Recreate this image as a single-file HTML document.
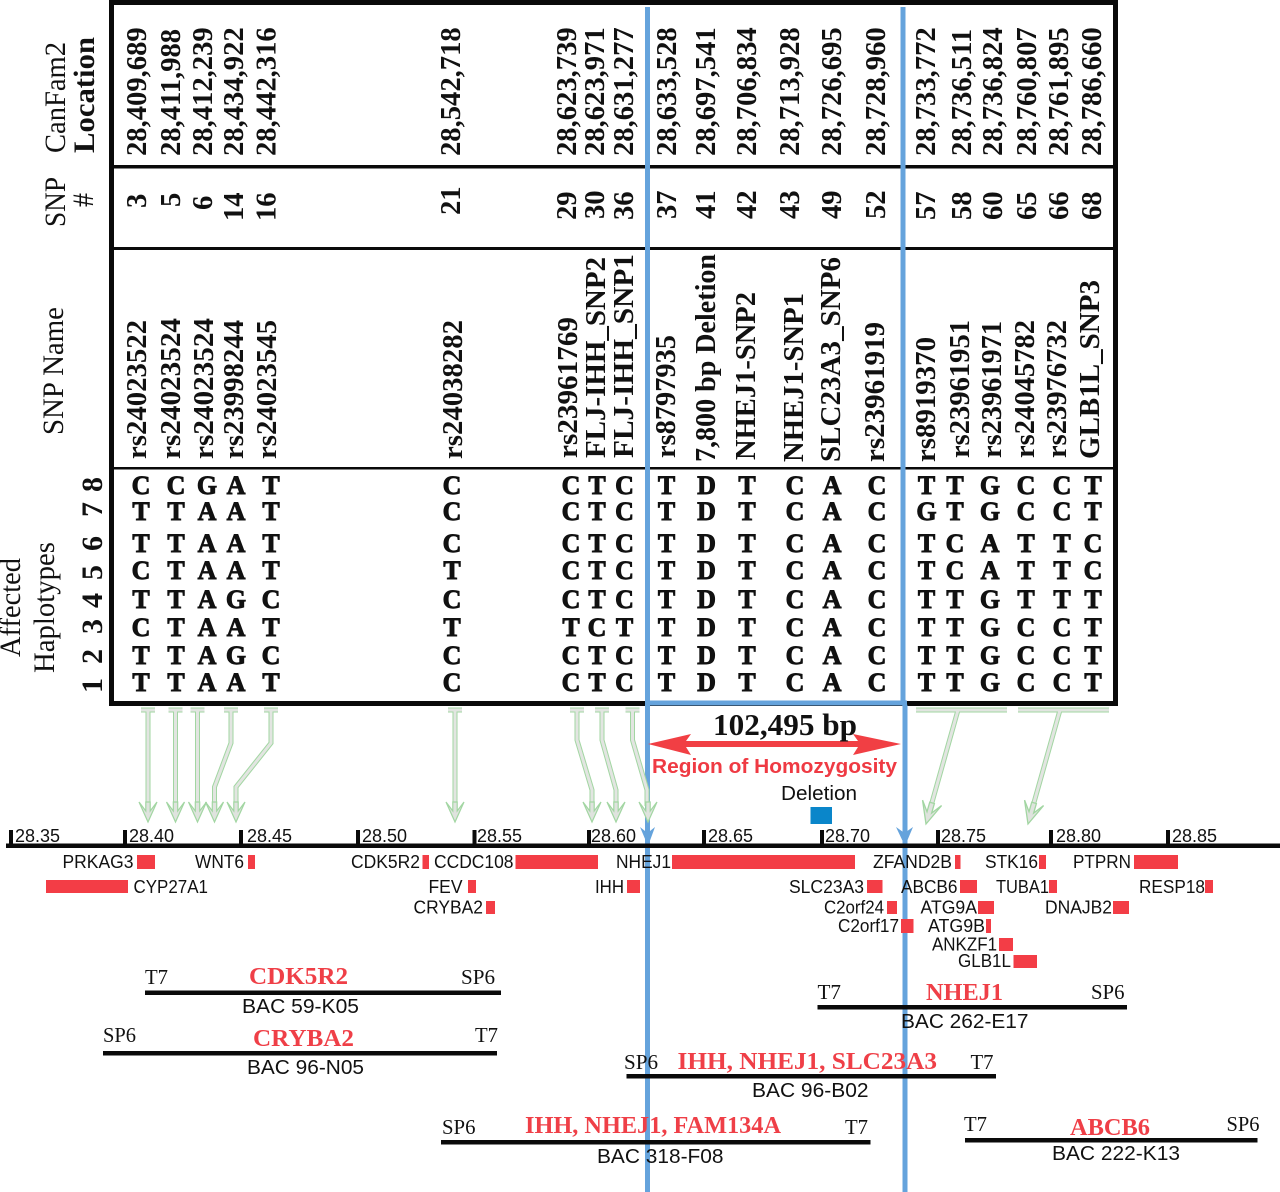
<!DOCTYPE html>
<html><head><meta charset="utf-8"><title>Haplotype map</title>
<style>
html,body{margin:0;padding:0;background:#fff}
svg{display:block}
text{fill:#111}
.s{font-family:"Liberation Serif",serif}
.a{font-family:"Liberation Sans",sans-serif}
.n{font:bold 28.6px "Liberation Serif",serif}
.h{font:30px "Liberation Serif",serif}
.hb{font:bold 30px "Liberation Serif",serif}
.d{font:bold 30px "Liberation Serif",serif}
.l{font:bold 26px "Liberation Serif",serif;text-anchor:middle;stroke:#111;stroke-width:.9px}
.t{font:18px "Liberation Sans",sans-serif}
.g{font:18px "Liberation Sans",sans-serif}
.b{font:20px "Liberation Sans",sans-serif}
.p{font:21px "Liberation Serif",serif}
text.r{font:bold 24px "Liberation Serif",serif;fill:#ef3f47}
</style></head><body>
<svg width="1280" height="1192" viewBox="0 0 1280 1192" xmlns="http://www.w3.org/2000/svg">
<rect width="1280" height="1192" fill="#fff"/>
<!-- table -->
<g fill="#0a0a0a">
<rect x="109" y="0" width="1008" height="5"/>
<rect x="109" y="0" width="5" height="706"/>
<rect x="1113" y="0" width="5" height="706"/>
<rect x="109" y="701" width="1009" height="5"/>
<rect x="112" y="165" width="1003" height="3.5"/>
<rect x="112" y="247" width="1003" height="3"/>
<rect x="112" y="467" width="1003" height="2.5"/>
</g>
<!-- headers -->
<text class="h" transform="translate(65 153) rotate(-90)" textLength="111" lengthAdjust="spacingAndGlyphs">CanFam2</text>
<text class="hb" transform="translate(94 153) rotate(-90)" textLength="116" lengthAdjust="spacingAndGlyphs">Location</text>
<text class="h" transform="translate(65 227) rotate(-90)" textLength="50" lengthAdjust="spacingAndGlyphs">SNP</text>
<text class="h" transform="translate(93 207) rotate(-90)" textLength="14" lengthAdjust="spacingAndGlyphs">#</text>
<text class="h" transform="translate(63 435) rotate(-90)" textLength="128" lengthAdjust="spacingAndGlyphs">SNP Name</text>
<text class="h" transform="translate(20 657) rotate(-90)" textLength="99" lengthAdjust="spacingAndGlyphs">Affected</text>
<text class="h" transform="translate(54 673) rotate(-90)" textLength="131" lengthAdjust="spacingAndGlyphs">Haplotypes</text>
<!-- locations -->
<g class="n">
<text class="n" transform="translate(146 156) rotate(-90)">28,409,689</text>
<text class="n" transform="translate(180 156) rotate(-90)">28,411,988</text>
<text class="n" transform="translate(212 156) rotate(-90)">28,412,239</text>
<text class="n" transform="translate(243 156) rotate(-90)">28,434,922</text>
<text class="n" transform="translate(275.5 156) rotate(-90)">28,442,316</text>
<text class="n" transform="translate(460 156) rotate(-90)">28,542,718</text>
<text class="n" transform="translate(576 156) rotate(-90)">28,623,739</text>
<text class="n" transform="translate(604 156) rotate(-90)">28,623,971</text>
<text class="n" transform="translate(633 156) rotate(-90)">28,631,277</text>
<text class="n" transform="translate(676 156) rotate(-90)">28,633,528</text>
<text class="n" transform="translate(715 156) rotate(-90)">28,697,541</text>
<text class="n" transform="translate(756 156) rotate(-90)">28,706,834</text>
<text class="n" transform="translate(799 156) rotate(-90)">28,713,928</text>
<text class="n" transform="translate(841 156) rotate(-90)">28,726,695</text>
<text class="n" transform="translate(885 156) rotate(-90)">28,728,960</text>
<text class="n" transform="translate(935 156) rotate(-90)">28,733,772</text>
<text class="n" transform="translate(971 156) rotate(-90)">28,736,511</text>
<text class="n" transform="translate(1002 156) rotate(-90)">28,736,824</text>
<text class="n" transform="translate(1036 156) rotate(-90)">28,760,807</text>
<text class="n" transform="translate(1068 156) rotate(-90)">28,761,895</text>
<text class="n" transform="translate(1101 156) rotate(-90)">28,786,660</text>
<!-- SNP numbers -->
<text class="n" transform="translate(146 208) rotate(-90)">3</text>
<text class="n" transform="translate(180 207) rotate(-90)">5</text>
<text class="n" transform="translate(212 210) rotate(-90)">6</text>
<text class="n" transform="translate(243 221) rotate(-90)">14</text>
<text class="n" transform="translate(275.5 221) rotate(-90)">16</text>
<text class="n" transform="translate(460 215) rotate(-90)">21</text>
<text class="n" transform="translate(576 220) rotate(-90)">29</text>
<text class="n" transform="translate(604 219) rotate(-90)">30</text>
<text class="n" transform="translate(633 220) rotate(-90)">36</text>
<text class="n" transform="translate(676 219) rotate(-90)">37</text>
<text class="n" transform="translate(715 219) rotate(-90)">41</text>
<text class="n" transform="translate(756 219) rotate(-90)">42</text>
<text class="n" transform="translate(799 219) rotate(-90)">43</text>
<text class="n" transform="translate(841 219) rotate(-90)">49</text>
<text class="n" transform="translate(885 219) rotate(-90)">52</text>
<text class="n" transform="translate(935 220) rotate(-90)">57</text>
<text class="n" transform="translate(971 220) rotate(-90)">58</text>
<text class="n" transform="translate(1002 220) rotate(-90)">60</text>
<text class="n" transform="translate(1036 220) rotate(-90)">65</text>
<text class="n" transform="translate(1068 220) rotate(-90)">66</text>
<text class="n" transform="translate(1101 220) rotate(-90)">68</text>
<!-- SNP names -->
<text class="n" transform="translate(146 459) rotate(-90)" textLength="139" lengthAdjust="spacingAndGlyphs">rs24023522</text>
<text class="n" transform="translate(180 459) rotate(-90)" textLength="141" lengthAdjust="spacingAndGlyphs">rs24023524</text>
<text class="n" transform="translate(213 459) rotate(-90)" textLength="141" lengthAdjust="spacingAndGlyphs">rs24023524</text>
<text class="n" transform="translate(243 459) rotate(-90)" textLength="139" lengthAdjust="spacingAndGlyphs">rs23998244</text>
<text class="n" transform="translate(276 459) rotate(-90)" textLength="139" lengthAdjust="spacingAndGlyphs">rs24023545</text>
<text class="n" transform="translate(462 459) rotate(-90)" textLength="139" lengthAdjust="spacingAndGlyphs">rs24038282</text>
<text class="n" transform="translate(577 458) rotate(-90)" textLength="141" lengthAdjust="spacingAndGlyphs">rs23961769</text>
<text class="n" transform="translate(605 458) rotate(-90)" textLength="201" lengthAdjust="spacingAndGlyphs">FLJ-IHH_SNP2</text>
<text class="n" transform="translate(633 458) rotate(-90)" textLength="204" lengthAdjust="spacingAndGlyphs">FLJ-IHH_SNP1</text>
<text class="n" transform="translate(675 458) rotate(-90)" textLength="123" lengthAdjust="spacingAndGlyphs">rs8797935</text>
<text class="n" transform="translate(715 462) rotate(-90)" textLength="208" lengthAdjust="spacingAndGlyphs">7,800 bp Deletion</text>
<text class="n" transform="translate(755 460) rotate(-90)" textLength="168" lengthAdjust="spacingAndGlyphs">NHEJ1-SNP2</text>
<text class="n" transform="translate(803 462) rotate(-90)" textLength="169" lengthAdjust="spacingAndGlyphs">NHEJ1-SNP1</text>
<text class="n" transform="translate(840 462) rotate(-90)" textLength="205" lengthAdjust="spacingAndGlyphs">SLC23A3_SNP6</text>
<text class="n" transform="translate(884 462) rotate(-90)" textLength="140" lengthAdjust="spacingAndGlyphs">rs23961919</text>
<text class="n" transform="translate(935 462) rotate(-90)" textLength="125" lengthAdjust="spacingAndGlyphs">rs8919370</text>
<text class="n" transform="translate(969 458) rotate(-90)" textLength="138" lengthAdjust="spacingAndGlyphs">rs23961951</text>
<text class="n" transform="translate(1001 458) rotate(-90)" textLength="137" lengthAdjust="spacingAndGlyphs">rs23961971</text>
<text class="n" transform="translate(1034 458) rotate(-90)" textLength="138" lengthAdjust="spacingAndGlyphs">rs24045782</text>
<text class="n" transform="translate(1066 458) rotate(-90)" textLength="138" lengthAdjust="spacingAndGlyphs">rs23976732</text>
<text class="n" transform="translate(1099 459) rotate(-90)" textLength="179" lengthAdjust="spacingAndGlyphs">GLB1L_SNP3</text>
</g>
<!-- row numbers -->
<text class="d" transform="translate(102 492) rotate(-90)">8</text>
<text class="d" transform="translate(102 517) rotate(-90)">7</text>
<text class="d" transform="translate(102 551) rotate(-90)">6</text>
<text class="d" transform="translate(102 580) rotate(-90)">5</text>
<text class="d" transform="translate(102 608) rotate(-90)">4</text>
<text class="d" transform="translate(102 634) rotate(-90)">3</text>
<text class="d" transform="translate(102 664) rotate(-90)">2</text>
<text class="d" transform="translate(102 693) rotate(-90)">1</text>
<!-- haplotypes -->
<g>
<text class="l" y="494" x="141 176 207 236 271 452 571 597 624.5 666.5 706.5 747 795 832 877 926.5 955 990 1026 1062 1093">CCGATCCTCTDTCACTTGCCT</text>
<text class="l" y="520" x="141 176 207 236 271 452 571 597 624.5 666.5 706.5 747 795 832 877 926.5 955 990 1026 1062 1093">TTAATCCTCTDTCACGTGCCT</text>
<text class="l" y="552" x="141 176 207 236 271 452 571 597 624.5 666.5 706.5 747 795 832 877 926.5 955 990 1026 1062 1093">TTAATCCTCTDTCACTCATTC</text>
<text class="l" y="579" x="141 176 207 236 271 452 571 597 624.5 666.5 706.5 747 795 832 877 926.5 955 990 1026 1062 1093">CTAATTCTCTDTCACTCATTC</text>
<text class="l" y="608" x="141 176 207 236 271 452 571 597 624.5 666.5 706.5 747 795 832 877 926.5 955 990 1026 1062 1093">TTAGCCCTCTDTCACTTGTTT</text>
<text class="l" y="636" x="141 176 207 236 271 452 571 597 624.5 666.5 706.5 747 795 832 877 926.5 955 990 1026 1062 1093">CTAATTTCTTDTCACTTGCCT</text>
<text class="l" y="664" x="141 176 207 236 271 452 571 597 624.5 666.5 706.5 747 795 832 877 926.5 955 990 1026 1062 1093">TTAGCCCTCTDTCACTTGCCT</text>
<text class="l" y="691" x="141 176 207 236 271 452 571 597 624.5 666.5 706.5 747 795 832 877 926.5 955 990 1026 1062 1093">TTAATCCTCTDTCACTTGCCT</text>
</g>
<!-- blue guides -->
<g fill="none" stroke="#65a3dc" stroke-width="5">
<path d="M647.5 7V1192"/>
<path d="M903 7V700L905 706V1192"/>
<path d="M646 703H907" stroke-width="5"/>
</g>
<g fill="#65a3dc">
<path d="M640 827L647.5 833L655 827L648 846Z"/>
<path d="M896 827L904.5 833L913 827L905 846Z"/>
</g>
<!-- green arrows -->
<defs>
<path id="head" d="M-9 -20L-2.200 -11L-2.200 -20L2.200 -20L2.200 -11L9 -20L0 0Z" fill="#dfe3de" stroke="#a2d6a2" stroke-width="1.200"/>
</defs>
<g fill="none" stroke-linejoin="miter">
<g stroke="#a2d6a2" stroke-width="5">
<path d="M141 710H155M148 710V806"/>
<path d="M168.5 710H182.5M175.5 710V806"/>
<path d="M190.500 710H204.500M197.500 710V806"/>
<path d="M224 710H238M231 710V743L214.500 787V806"/>
<path d="M264 710H278M271 710V743L236 787V806"/>
<path d="M448 710H462M455 710V806"/>
<path d="M570 710H584M577 710V740L592 790V806"/>
<path d="M595 710H609M602 710V740L616 790V806"/>
<path d="M625.500 710H639.500M632.500 710V740L647 790V806"/>
<path d="M916 710H1007M958 710L931 806"/>
<path d="M1018 710H1109M1060 710L1033 806"/>
</g>
<g stroke="#e2e5e1" stroke-width="3">
<path d="M141 710H155M148 710V806"/>
<path d="M168.5 710H182.5M175.5 710V806"/>
<path d="M190.500 710H204.500M197.500 710V806"/>
<path d="M224 710H238M231 710V743L214.500 787V806"/>
<path d="M264 710H278M271 710V743L236 787V806"/>
<path d="M448 710H462M455 710V806"/>
<path d="M570 710H584M577 710V740L592 790V806"/>
<path d="M595 710H609M602 710V740L616 790V806"/>
<path d="M625.500 710H639.500M632.500 710V740L647 790V806"/>
<path d="M916 710H1007M958 710L931 806"/>
<path d="M1018 710H1109M1060 710L1033 806"/>
</g>
</g>
<use href="#head" transform="translate(148 822)"/>
<use href="#head" transform="translate(175.500 822)"/>
<use href="#head" transform="translate(197.500 822)"/>
<use href="#head" transform="translate(214.500 822)"/>
<use href="#head" transform="translate(236 822)"/>
<use href="#head" transform="translate(455 822)"/>
<use href="#head" transform="translate(592 822)"/>
<use href="#head" transform="translate(616 822)"/>
<use href="#head" transform="translate(648 822)"/>
<use href="#head" transform="translate(926 824) rotate(16) scale(1.100)"/>
<use href="#head" transform="translate(1028 824) rotate(16) scale(1.100)"/>
<!-- red region -->
<path d="M648 744L691 734L686 741H858L853 734L901 744L853 755L858 747H686L691 755Z" fill="#f13f44"/>
<text class="s" x="713" y="735" style="font:bold 31px 'Liberation Serif',serif" textLength="144" lengthAdjust="spacingAndGlyphs">102,495 bp</text>
<text class="a" x="652" y="773" style="font:bold 20px 'Liberation Sans',sans-serif;fill:#ef3a43" textLength="245" lengthAdjust="spacingAndGlyphs">Region of Homozygosity</text>
<text class="b" x="781" y="800" textLength="76" lengthAdjust="spacingAndGlyphs">Deletion</text>
<rect x="810.500" y="807" width="21.500" height="17" fill="#0a86ca"/>
<!-- ruler -->
<rect x="6" y="843.500" width="1274" height="4.500" fill="#0a0a0a"/>
<g fill="#0a0a0a">
<rect x="9" y="830" width="4" height="16"/><rect x="123" y="830" width="4" height="16"/><rect x="239" y="830" width="4" height="16"/><rect x="356" y="830" width="4" height="16"/><rect x="472.500" y="830" width="4" height="16"/><rect x="587" y="830" width="4" height="16"/><rect x="702" y="830" width="4" height="16"/><rect x="820" y="830" width="4" height="16"/><rect x="936" y="830" width="4" height="16"/><rect x="1049" y="830" width="4" height="16"/><rect x="1166" y="830" width="4" height="16"/>
</g>
<g class="t">
<text class="t" x="15" y="842">28.35</text><text class="t" x="129" y="842">28.40</text><text class="t" x="247" y="842">28.45</text><text class="t" x="362" y="842">28.50</text><text class="t" x="477" y="842">28.55</text><text class="t" x="591" y="842">28.60</text><text class="t" x="708" y="842">28.65</text><text class="t" x="825" y="842">28.70</text><text class="t" x="941" y="842">28.75</text><text class="t" x="1056" y="842">28.80</text><text class="t" x="1172" y="842">28.85</text>
</g>
<!-- gene bars -->
<g fill="#f33d46">
<rect x="137" y="855" width="18" height="14"/><rect x="248" y="855" width="7" height="14"/><rect x="422.500" y="855" width="6.500" height="14"/><rect x="515.500" y="855" width="82.500" height="14"/><rect x="672" y="855" width="183" height="14"/><rect x="955" y="855" width="5.500" height="14"/><rect x="1039" y="855" width="7" height="14"/><rect x="1134" y="855" width="44" height="14"/>
<rect x="46" y="880" width="82" height="13"/><rect x="468" y="880" width="8" height="13"/><rect x="627" y="880" width="13" height="13"/><rect x="867" y="880" width="15.500" height="13"/><rect x="960" y="880" width="17" height="13"/><rect x="1049" y="880" width="8" height="13"/><rect x="1205" y="880" width="8" height="13"/>
<rect x="486" y="901" width="9" height="13"/><rect x="887" y="901" width="10" height="13"/><rect x="978" y="901" width="16" height="13"/><rect x="1113" y="901" width="16" height="13"/>
<rect x="901" y="919" width="12.500" height="14"/><rect x="986" y="919" width="5" height="14"/>
<rect x="999" y="938" width="14" height="13"/>
<rect x="1013.500" y="955" width="23.500" height="13"/>
</g>
<!-- gene labels -->
<g>
<text class="g" x="62.500" y="868" textLength="71" lengthAdjust="spacingAndGlyphs">PRKAG3</text>
<text class="g" x="195" y="868" textLength="49" lengthAdjust="spacingAndGlyphs">WNT6</text>
<text class="g" x="351" y="868" textLength="69" lengthAdjust="spacingAndGlyphs">CDK5R2</text>
<text class="g" x="434" y="868" textLength="79.500" lengthAdjust="spacingAndGlyphs">CCDC108</text>
<text class="g" x="616" y="868" textLength="55" lengthAdjust="spacingAndGlyphs">NHEJ1</text>
<text class="g" x="873" y="868" textLength="79" lengthAdjust="spacingAndGlyphs">ZFAND2B</text>
<text class="g" x="985" y="868" textLength="53" lengthAdjust="spacingAndGlyphs">STK16</text>
<text class="g" x="1073" y="868" textLength="58" lengthAdjust="spacingAndGlyphs">PTPRN</text>
<text class="g" x="133.500" y="893" textLength="74.500" lengthAdjust="spacingAndGlyphs">CYP27A1</text>
<text class="g" x="428.500" y="893" textLength="34" lengthAdjust="spacingAndGlyphs">FEV</text>
<text class="g" x="595" y="893" textLength="29" lengthAdjust="spacingAndGlyphs">IHH</text>
<text class="g" x="789" y="893" textLength="75" lengthAdjust="spacingAndGlyphs">SLC23A3</text>
<text class="g" x="901" y="893" textLength="56.500" lengthAdjust="spacingAndGlyphs">ABCB6</text>
<text class="g" x="996" y="893" textLength="53" lengthAdjust="spacingAndGlyphs">TUBA1</text>
<text class="g" x="1139" y="893" textLength="66" lengthAdjust="spacingAndGlyphs">RESP18</text>
<text class="g" x="413.500" y="913.500" textLength="69.500" lengthAdjust="spacingAndGlyphs">CRYBA2</text>
<text class="g" x="824" y="913.500" textLength="60" lengthAdjust="spacingAndGlyphs">C2orf24</text>
<text class="g" x="920.500" y="913.500" textLength="56.500" lengthAdjust="spacingAndGlyphs">ATG9A</text>
<text class="g" x="1045" y="913.500" textLength="67" lengthAdjust="spacingAndGlyphs">DNAJB2</text>
<text class="g" x="838" y="932" textLength="61" lengthAdjust="spacingAndGlyphs">C2orf17</text>
<text class="g" x="928" y="932" textLength="57" lengthAdjust="spacingAndGlyphs">ATG9B</text>
<text class="g" x="932" y="950.500" textLength="65" lengthAdjust="spacingAndGlyphs">ANKZF1</text>
<text class="g" x="958" y="967" textLength="53" lengthAdjust="spacingAndGlyphs">GLB1L</text>
</g>
<!-- BACs -->
<g fill="#0a0a0a">
<rect x="145" y="990.500" width="356" height="4.500"/>
<rect x="103" y="1051" width="394" height="4.500"/>
<rect x="441" y="1140" width="429.500" height="4.500"/>
<rect x="626.500" y="1074" width="369.500" height="4.500"/>
<rect x="817.500" y="1005" width="309.500" height="4.500"/>
<rect x="965" y="1138" width="292.500" height="4.500"/>
</g>
<text class="p" x="145" y="984" textLength="23" lengthAdjust="spacingAndGlyphs">T7</text>
<text class="p" x="461" y="984" textLength="34" lengthAdjust="spacingAndGlyphs">SP6</text>
<text class="r" x="249" y="984" textLength="99" lengthAdjust="spacingAndGlyphs">CDK5R2</text>
<text class="b" x="242" y="1013" textLength="117" lengthAdjust="spacingAndGlyphs">BAC 59-K05</text>
<text class="p" x="103" y="1042" textLength="33" lengthAdjust="spacingAndGlyphs">SP6</text>
<text class="p" x="475" y="1042" textLength="23" lengthAdjust="spacingAndGlyphs">T7</text>
<text class="r" x="253" y="1046" textLength="101" lengthAdjust="spacingAndGlyphs">CRYBA2</text>
<text class="b" x="247" y="1074" textLength="117" lengthAdjust="spacingAndGlyphs">BAC 96-N05</text>
<text class="p" x="442" y="1134" textLength="33.500" lengthAdjust="spacingAndGlyphs">SP6</text>
<text class="p" x="845" y="1134" textLength="23" lengthAdjust="spacingAndGlyphs">T7</text>
<text class="r" x="525" y="1133" textLength="256" lengthAdjust="spacingAndGlyphs">IHH, NHEJ1, FAM134A</text>
<text class="b" x="597" y="1163" textLength="126.500" lengthAdjust="spacingAndGlyphs">BAC 318-F08</text>
<text class="p" x="624" y="1069" textLength="34" lengthAdjust="spacingAndGlyphs">SP6</text>
<text class="p" x="970.500" y="1069" textLength="23" lengthAdjust="spacingAndGlyphs">T7</text>
<text class="r" x="677.500" y="1069" textLength="259.500" lengthAdjust="spacingAndGlyphs">IHH, NHEJ1, SLC23A3</text>
<text class="b" x="752" y="1097" textLength="116.500" lengthAdjust="spacingAndGlyphs">BAC 96-B02</text>
<text class="p" x="817.500" y="999" textLength="23.500" lengthAdjust="spacingAndGlyphs">T7</text>
<text class="p" x="1091" y="999" textLength="33.500" lengthAdjust="spacingAndGlyphs">SP6</text>
<text class="r" x="926" y="1000" textLength="77" lengthAdjust="spacingAndGlyphs">NHEJ1</text>
<text class="b" x="901" y="1028" textLength="127.500" lengthAdjust="spacingAndGlyphs">BAC 262-E17</text>
<text class="p" x="964" y="1131" textLength="23" lengthAdjust="spacingAndGlyphs">T7</text>
<text class="p" x="1226.500" y="1131" textLength="33" lengthAdjust="spacingAndGlyphs">SP6</text>
<text class="r" x="1070" y="1135" textLength="80" lengthAdjust="spacingAndGlyphs">ABCB6</text>
<text class="b" x="1052" y="1160" textLength="128" lengthAdjust="spacingAndGlyphs">BAC 222-K13</text>
</svg>
</body></html>
